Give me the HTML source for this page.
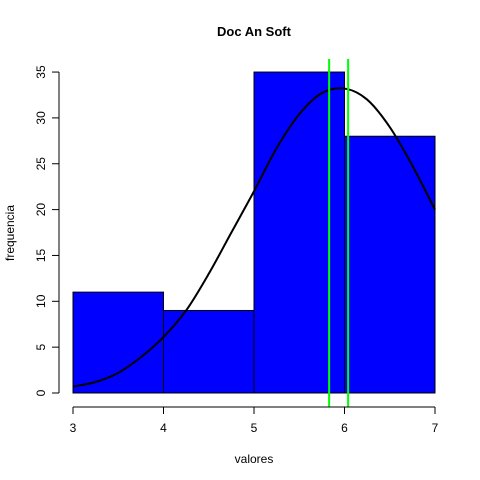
<!DOCTYPE html>
<html><head><meta charset="utf-8"><style>body{margin:0;background:#fff}svg{display:block;font-family:"Liberation Sans",Arial,sans-serif}</style></head>
<body>
<svg id="c" width="480" height="480" viewBox="0 0 480 480">
<text x="254" y="36" text-anchor="middle" font-weight="bold" font-size="13">Doc An Soft</text>
<text x="254" y="463" text-anchor="middle" font-size="12">valores</text>
<text transform="translate(14,233) rotate(-90)" text-anchor="middle" font-size="12">frequencia</text>
<g id="bars"></g><g id="curve"></g><g id="vlines"></g><g id="axes"></g>
</svg>
<script>
const binEdges=[3,4,5,6,7];
const counts=[11,9,35,28];
const curveX=[3,3.25,3.5,3.75,4,4.25,4.5,4.75,5,5.25,5.5,5.75,6,6.25,6.5,6.75,7];
const curveY=[0.7,1.2,2.2,3.9,6.1,9.0,13.0,17.5,22.0,26.7,30.4,32.7,33.2,32.0,29.0,24.8,20.0];
const vLines=[5.83,6.04];
const xTicks=[3,4,5,6,7];
const yTicks=[0,5,10,15,20,25,30,35];
const NS="http://www.w3.org/2000/svg";
const X=v=>73+(v-3)*90.5, Y=v=>393-v*9.17;
function mk(t,a,p){const e=document.createElementNS(NS,t);for(const k in a)e.setAttribute(k,a[k]);p.appendChild(e);return e;}
const gb=document.getElementById('bars');
counts.forEach((c,i)=>{const r=mk('rect',{x:X(binEdges[i]),y:Y(c),width:X(binEdges[i+1])-X(binEdges[i]),height:Y(0)-Y(c),fill:'#0000ff',stroke:'#000','stroke-width':1},gb);

});
const P=curveX.map((x,i)=>[X(x),Y(curveY[i])]);
let d='M'+P[0][0]+','+P[0][1];
for(let i=0;i<P.length-1;i++){const p0=P[Math.max(0,i-1)],p1=P[i],p2=P[i+1],p3=P[Math.min(P.length-1,i+2)];
d+=` C${p1[0]+(p2[0]-p0[0])/6},${p1[1]+(p2[1]-p0[1])/6} ${p2[0]-(p3[0]-p1[0])/6},${p2[1]-(p3[1]-p1[1])/6} ${p2[0]},${p2[1]}`;}
const pc=mk('path',{d:d,fill:'none',stroke:'#000','stroke-width':2},document.getElementById('curve'));


const gv=document.getElementById('vlines');
vLines.forEach((v,i)=>{const l=mk('line',{x1:X(v),x2:X(v),y1:59,y2:407,stroke:'#00ff00','stroke-width':2},gv);

});
const ga=document.getElementById('axes');
const xa=mk('line',{x1:X(3),x2:X(7),y1:407,y2:407,stroke:'#000'},ga);


xTicks.forEach(t=>{mk('line',{x1:X(t),x2:X(t),y1:407,y2:414,stroke:'#000'},ga);
const tx=mk('text',{x:X(t),y:432,'text-anchor':'middle','font-size':12},ga);tx.textContent=t;

});
const ya=mk('line',{x1:59,x2:59,y1:Y(0),y2:Y(35),stroke:'#000'},ga);


yTicks.forEach(t=>{mk('line',{x1:52,x2:59,y1:Y(t),y2:Y(t),stroke:'#000'},ga);
const tx=mk('text',{transform:`translate(45,${Y(t)}) rotate(-90)`,'text-anchor':'middle','font-size':12},ga);tx.textContent=t;

});
</script>
</body></html>
